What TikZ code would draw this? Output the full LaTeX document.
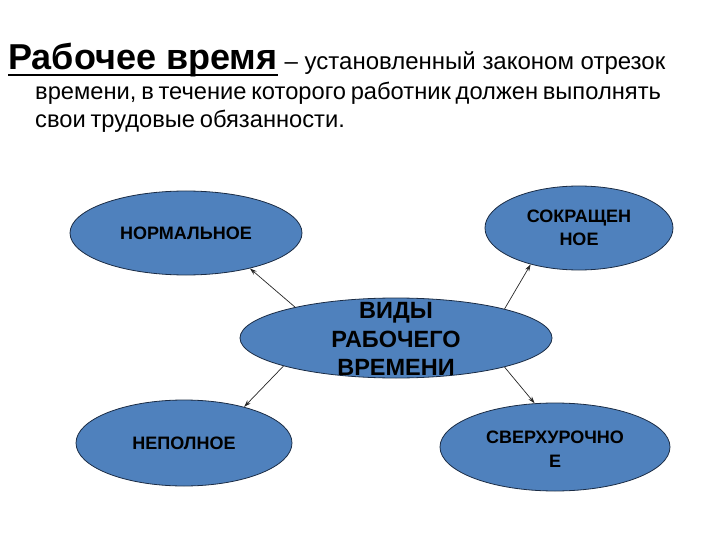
\documentclass[tikz,border=0pt]{standalone}
\usepackage{fontspec}
\setmainfont{Liberation Sans}
\usetikzlibrary{shapes.geometric,arrows.meta}
\definecolor{ellfill}{HTML}{4F81BD}
\definecolor{elldraw}{HTML}{1B2C45}
\tikzset{
  ell/.style={ellipse, draw=elldraw, fill=ellfill, line width=0.8pt, inner sep=0pt},
  etext/.style={align=center, font=\fontsize{18}{23.5}\selectfont\bfseries, text=black, inner sep=0pt},
  arr/.style={-{Stealth[length=7pt,width=4.5pt]}, line width=0.7pt, black!85}
}
\begin{document}
\begin{tikzpicture}[x=1pt,y=-1pt]
\useasboundingbox (0,0) rectangle (720,540);
% heading text
\node[anchor=base west, inner sep=0pt, font=\fontsize{36}{40}\selectfont\bfseries] (t) at (8,70) {Рабочее время};
\draw[line width=2.5pt] ([yshift=-5pt]t.base west) -- ([yshift=-5pt]t.base east);
\node[anchor=base west, inner sep=0pt, font=\fontsize{24}{28}\selectfont] (l1) at ([xshift=7pt]t.base east) {– установленный законом отрезок};
\node[anchor=base west, inner sep=0pt, font=\fontsize{23.7}{28}\selectfont] (l2) at (35,100) {\spaceskip=0.2em времени, в течение которого работник должен выполнять};
\node[anchor=base west, inner sep=0pt, font=\fontsize{23.7}{28}\selectfont] (l3) at (35,128) {\spaceskip=0.2em свои трудовые обязанности.};
% ellipses
\node[ell, minimum width=232pt, minimum height=84pt] (n) at (186,233) {};
\node[etext] (nt) at (n.center) {НОРМАЛЬНОЕ};
\node[ell, minimum width=188pt, minimum height=84pt] (s) at (579,228) {};
\node[etext] (st) at (s.center) {СОКРАЩЕН\\НОЕ};
\node[ell, minimum width=312pt, minimum height=80pt] (c) at (396,338) {};
\node[etext, font=\fontsize{23.5}{28.5}\selectfont\bfseries] (ct) at (396,339) {ВИДЫ\\РАБОЧЕГО\\ВРЕМЕНИ};
\node[ell, minimum width=216pt, minimum height=86pt] (p) at (184,443) {};
\node[etext] (pt) at (p.center) {НЕПОЛНОЕ};
\node[ell, minimum width=230pt, minimum height=88pt] (v) at (555,447) {};
\node[etext] (vt) at ([yshift=-2pt]v.center) {СВЕРХУРОЧНО\\Е};
% arrows
\draw[arr] (c.163.4) -- (n.-29.3);
\draw[arr] (c.15.7) -- (s.217);
\draw[arr] (c.194.2) -- (p.31.1);
\draw[arr] (c.-15.5) -- (v.115.5);
\end{tikzpicture}
\end{document}
